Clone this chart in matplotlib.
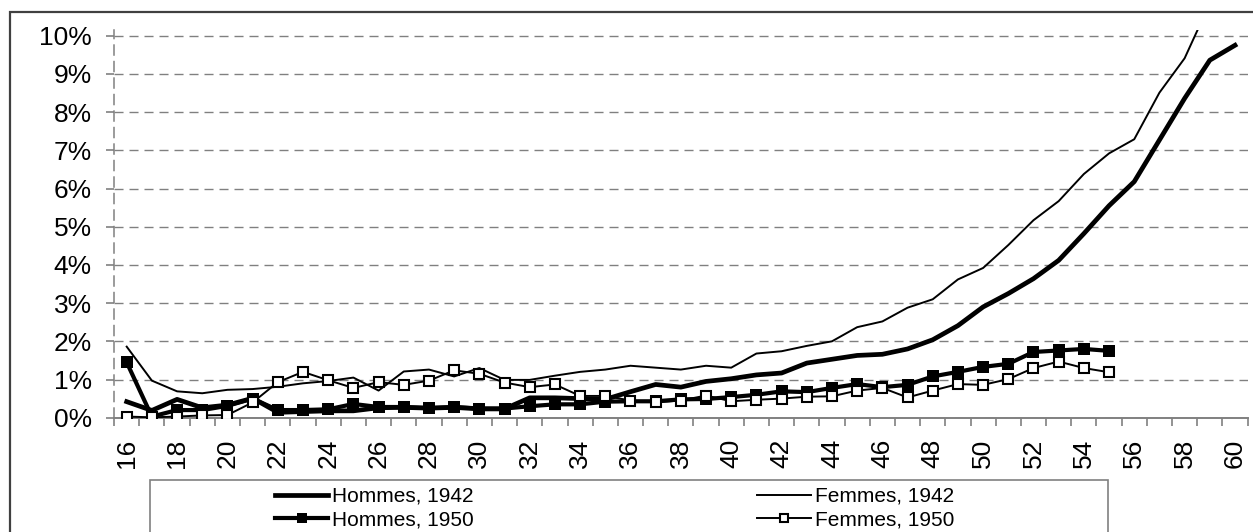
import numpy as np
import matplotlib
matplotlib.use("Agg")
import matplotlib.pyplot as plt
from matplotlib.patches import Rectangle

plt.rcParams['font.family'] = ['Liberation Sans', 'DejaVu Sans']

ages = list(range(16, 61))
hommes_1942 = [0.42, 0.19, 0.48, 0.26, 0.33, 0.51, 0.14, 0.16, 0.18, 0.18,
               0.26, 0.27, 0.25, 0.27, 0.23, 0.23, 0.52, 0.52, 0.50, 0.48,
               0.68, 0.87, 0.80, 0.95, 1.02, 1.12, 1.17, 1.43, 1.53, 1.63,
               1.66, 1.80, 2.04, 2.41, 2.90, 3.25, 3.64, 4.12, 4.82, 5.55,
               6.18, 7.27, 8.36, 9.36, 9.75]
femmes_1942 = [1.86, 0.97, 0.69, 0.64, 0.73, 0.75, 0.81, 0.90, 0.96, 1.05,
               0.71, 1.21, 1.26, 1.08, 1.30, 0.99, 0.99, 1.10, 1.20, 1.26,
               1.36, 1.31, 1.26, 1.36, 1.31, 1.68, 1.74, 1.88, 2.00, 2.37,
               2.52, 2.88, 3.10, 3.62, 3.92, 4.52, 5.17, 5.67, 6.38, 6.92,
               7.29, 8.51, 9.41, 10.85, 11.5]
hommes_1950 = [1.45, 0.03, 0.20, 0.20, 0.31, 0.50, 0.20, 0.20, 0.22, 0.36,
               0.28, 0.28, 0.25, 0.28, 0.24, 0.24, 0.30, 0.35, 0.35, 0.42,
               0.43, 0.43, 0.48, 0.49, 0.54, 0.60, 0.69, 0.67, 0.78, 0.88,
               0.80, 0.86, 1.08, 1.20, 1.33, 1.41, 1.72, 1.76, 1.80, 1.75]
femmes_1950 = [0.03, 0.01, 0.03, 0.06, 0.07, 0.40, 0.93, 1.20, 0.98, 0.78,
               0.93, 0.86, 0.97, 1.24, 1.15, 0.92, 0.80, 0.87, 0.57, 0.57,
               0.45, 0.40, 0.45, 0.58, 0.43, 0.47, 0.50, 0.55, 0.56, 0.71,
               0.78, 0.53, 0.71, 0.88, 0.86, 1.01, 1.30, 1.47, 1.30, 1.19]
labels = ["Hommes, 1942", "Femmes, 1942", "Hommes, 1950", "Femmes, 1950"]
y_ticks = list(range(0, 11))

W, H = 1253, 532
fig = plt.figure(figsize=(W / 100, H / 100), dpi=100)

# outer chart border (only left/top visible)
fig.patches.append(Rectangle((10 / W, -0.2), 1.2, (H - 12) / H + 0.2,
                             transform=fig.transFigure, fill=False,
                             edgecolor='#404040', linewidth=1.6))

ax_left, ax_right = 114.1, 1247.6
ax_bottom, ax_top = 417.7, 30.0
ax = fig.add_axes([ax_left / W, (H - ax_bottom) / H,
                   (ax_right - ax_left) / W, (ax_bottom - ax_top) / H])

x = np.arange(len(ages))
n50 = len(hommes_1950)

l1, = ax.plot(x, hommes_1942, color='black', lw=3.4, solid_joinstyle='round', zorder=3)
l2, = ax.plot(x, femmes_1942, color='black', lw=1.4, zorder=4)
l3, = ax.plot(x[:n50], hommes_1950, color='black', lw=3.0, marker='s', ms=8.6,
              mfc='black', mec='black', mew=0, zorder=5)
l4, = ax.plot(x[:n50], femmes_1950, color='black', lw=1.4, marker='s', ms=7.6,
              mfc='white', mec='black', mew=1.5, zorder=6)

ax.set_xlim(-0.5, len(ages) - 0.5)
ax.set_ylim(0, 10.15)

ax.set_yticks(y_ticks)
ax.set_yticklabels([f"{v}%" for v in y_ticks], fontsize=19)
ax.set_xticks(x[::2])
ax.set_xticklabels([str(a) for a in ages[::2]], rotation=90, fontsize=19)
ax.set_xticks(np.arange(-0.5, len(ages), 1.0), minor=True)

ax.tick_params(axis='x', which='major', length=0, pad=15)
ax.tick_params(axis='x', which='minor', length=6, width=1.2, color='#808080', direction='out')
ax.tick_params(axis='y', length=6, width=1.2, color='#808080', direction='out', pad=10)

ax.grid(axis='y', color='#808080', linestyle=(0, (6.5, 4.3)), linewidth=1.0)
ax.set_axisbelow(True)

for s in ['top', 'right']:
    ax.spines[s].set_visible(False)
ax.spines['bottom'].set_color('#808080')
ax.spines['bottom'].set_linewidth(1.4)
ax.spines['left'].set_color('#808080')
ax.spines['left'].set_linewidth(1.1)
ax.spines['left'].set_linestyle((0, (6.5, 4.3)))

# legend box
fig.patches.append(Rectangle((150 / W, -0.2), (1108 - 150) / W, (H - 480) / H + 0.2,
                             transform=fig.transFigure, fill=False,
                             edgecolor='#808080', linewidth=1.2))
# row-major order as in the reference: (H42, F42) / (H50, F50)
handles = [l1, l3, l2, l4]
leg_labels = [labels[0], labels[2], labels[1], labels[3]]
leg = fig.legend(handles, leg_labels, ncol=2, frameon=False,
                 loc='upper left', bbox_to_anchor=(275 / W, (H - 487) / H),
                 borderpad=0, borderaxespad=0, fontsize=15,
                 handlelength=2.55, handletextpad=0.2, columnspacing=13.6,
                 labelspacing=0.22, markerscale=0.8)
for t in leg.get_texts():
    t.set_color('black')

fig.savefig("out.png", dpi=100)
